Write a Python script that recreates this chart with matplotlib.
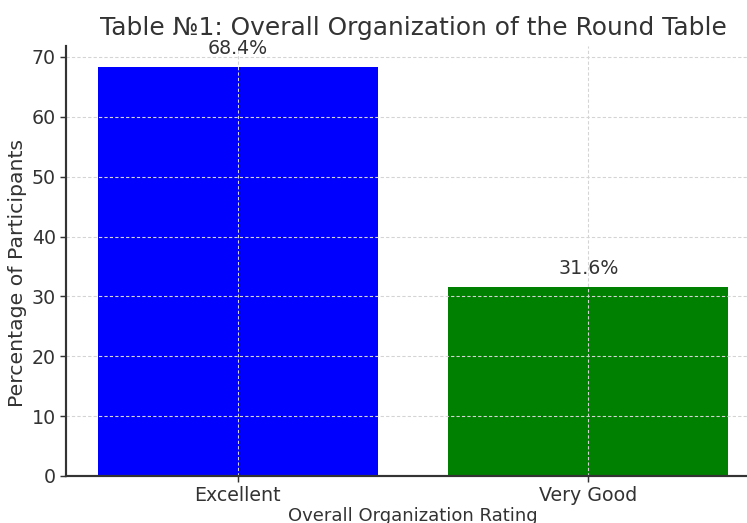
import matplotlib
matplotlib.use("Agg")
import matplotlib.pyplot as plt

ratings = ["Excellent", "Very Good"]
percentages = [68.4, 31.6]
bar_colors = ["blue", "green"]

plt.rcParams["text.color"] = "#333333"
plt.rcParams["axes.labelcolor"] = "#333333"
plt.rcParams["xtick.color"] = "#333333"
plt.rcParams["ytick.color"] = "#333333"

fig = plt.figure(figsize=(747 / 130, 523 / 130), dpi=130)
ax = fig.add_axes([0.0884, 0.0899, 0.929, 0.822])

bars = ax.bar(ratings, percentages, color=bar_colors)
for b, v in zip(bars, percentages):
    ax.text(b.get_x() + b.get_width() / 2, v + 1.4, f"{v}%", ha="center",
            va="bottom", fontsize=10.5)

ax.set_title("Table №1: Overall Organization of the Round Table", fontsize=13.8)
ax.set_xlabel("Overall Organization Rating", labelpad=1)
ax.set_ylabel("Percentage of Participants", fontsize=11.3)
ax.yaxis.set_label_coords(-0.056, 0.472)
ax.tick_params(axis="x", pad=2, labelsize=10.5)
ax.tick_params(axis="y", pad=2, labelsize=10.5)

ax.grid(True, linestyle=(0, (3, 2)), color="#d4d4d4", linewidth=0.6)
for s in ["top", "right"]:
    ax.spines[s].set_visible(False)
for s in ["left", "bottom"]:
    ax.spines[s].set_color("#333333")
    ax.spines[s].set_linewidth(1.2)

fig.savefig("out.png", dpi=130)
